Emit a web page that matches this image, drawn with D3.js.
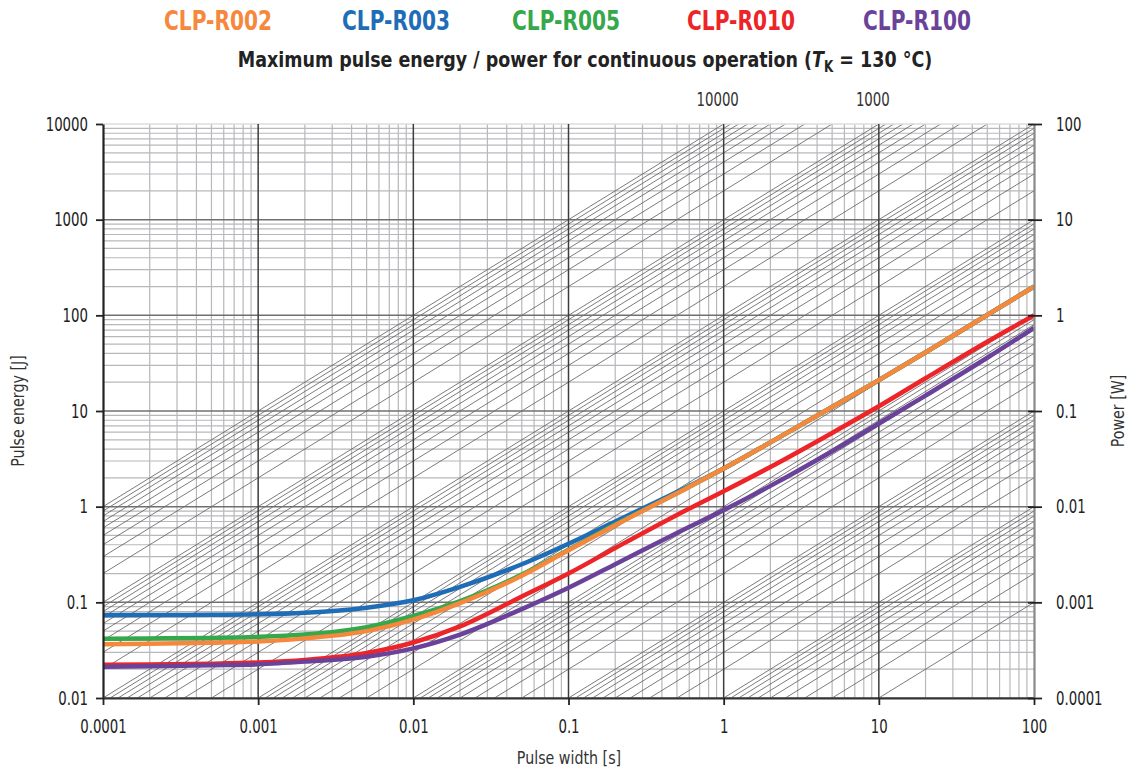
<!DOCTYPE html>
<html>
<head>
<meta charset="UTF-8">
<title>CLP pulse energy</title>
<style>
  body { margin: 0; background: #fff; }
  svg { display: block; }
  text { font-family: 'DejaVu Sans Condensed', 'DejaVu Sans', sans-serif; fill: #222; }
</style>
<script src="https://d3js.org/d3.v7.min.js"></script>
</head>
<body>
<script>
// pulse width [s]
const pulseWidths = [0.0001, 0.0002, 0.0005, 0.001, 0.002, 0.005, 0.01, 0.02, 0.05, 0.1, 0.2, 0.5, 1, 2, 5, 10, 20, 50, 100];

// pulse energy [J] per type
const r002 = [0.0365, 0.0368, 0.0378, 0.039, 0.042, 0.05, 0.066, 0.098, 0.19, 0.35, 0.64, 1.38, 2.5, 4.7, 11, 21, 41, 101, 200];
const r003 = [0.0735, 0.0737, 0.074, 0.075, 0.078, 0.088, 0.105, 0.145, 0.25, 0.41, 0.7, 1.42, 2.5, 4.7, 11, 21, 41, 101, 200];
const r005 = [0.0415, 0.042, 0.0425, 0.0435, 0.046, 0.055, 0.072, 0.103, 0.195, 0.355, 0.65, 1.38, 2.5, 4.7, 11, 21, 41, 101, 200];
const r010 = [0.0222, 0.0224, 0.0228, 0.0235, 0.025, 0.0295, 0.038, 0.056, 0.115, 0.2, 0.37, 0.82, 1.45, 2.6, 5.9, 11.2, 22, 53, 100];
const r100 = [0.0212, 0.0215, 0.022, 0.0225, 0.024, 0.027, 0.033, 0.046, 0.085, 0.142, 0.25, 0.53, 0.92, 1.65, 3.8, 7.4, 14.5, 36, 74];

const seriesNames = ["CLP-R002", "CLP-R003", "CLP-R005", "CLP-R010", "CLP-R100"];
const seriesColors = ["#f5883c", "#1f6db6", "#35a84b", "#ed2428", "#6a429a"];
const seriesValues = [r002, r003, r005, r010, r100];
const drawOrder = [1, 2, 0, 3, 4];

// ticks
const timeTicks = [0.0001, 0.001, 0.01, 0.1, 1, 10, 100];
const timeLabels = ["0.0001", "0.001", "0.01", "0.1", "1", "10", "100"];
const energyTicks = [0.01, 0.1, 1, 10, 100, 1000, 10000];
const energyLabels = ["0.01", "0.1", "1", "10", "100", "1000", "10000"];
const powerTicks = [0.0001, 0.001, 0.01, 0.1, 1, 10, 100];
const powerLabels = ["0.0001", "0.001", "0.01", "0.1", "1", "10", "100"];

// constant power lines [W]
const powerDecades = [0.001, 0.01, 0.1, 1, 10, 100, 1000];
const powerSteps = [1, 2, 3, 4, 5, 6, 7, 8, 9];
const powerMax = 10000;
const powerLineLabels = [10000, 1000];

const width = 1129, height = 772;
const plotLeft = 103, plotRight = 1034, plotTop = 124, plotBottom = 698;

const svg = d3.select("body").append("svg")
    .attr("width", width)
    .attr("height", height);

const x = d3.scaleLog().domain([0.0001, 100]).range([plotLeft, plotRight]);
const y = d3.scaleLog().domain([0.01, 10000]).range([plotBottom, plotTop]);
const yP = d3.scaleLog().domain([0.0001, 100]).range([plotBottom, plotTop]);

// squeeze text horizontally (narrow font look)
function condense(sel, s) {
    sel.each(function() {
        const t = d3.select(this);
        const x0 = +t.attr("x") || 0;
        t.attr("x", x0 / s).attr("transform", `scale(${s},1)`);
    });
}

svg.append("clipPath").attr("id", "plot")
    .append("rect")
    .attr("x", plotLeft).attr("y", plotTop)
    .attr("width", plotRight - plotLeft).attr("height", plotBottom - plotTop);

const isMajor = v => Math.abs(Math.log10(v) - Math.round(Math.log10(v))) < 1e-9;

// minor grid
const grid = svg.append("g");
grid.selectAll(".vmin").data(x.ticks().filter(v => !isMajor(v)))
    .enter().append("line")
    .attr("x1", d => x(d)).attr("x2", d => x(d))
    .attr("y1", plotTop).attr("y2", plotBottom)
    .attr("stroke", "#b8b8bc").attr("stroke-width", 1.2);

grid.selectAll(".hmin").data(y.ticks().filter(v => !isMajor(v)))
    .enter().append("line")
    .attr("x1", plotLeft).attr("x2", plotRight)
    .attr("y1", d => y(d)).attr("y2", d => y(d))
    .attr("stroke", "#b8b8bc").attr("stroke-width", 1.2);

// constant power lines
const powers = [];
powerDecades.forEach(d => powerSteps.forEach(k => powers.push(d * k)));
powers.push(powerMax);

svg.append("g").attr("clip-path", "url(#plot)")
    .selectAll("line").data(powers)
    .enter().append("line")
    .attr("x1", x(0.0001)).attr("y1", d => y(d * 0.0001))
    .attr("x2", x(100)).attr("y2", d => y(d * 100))
    .attr("stroke", "#5a5a5a").attr("stroke-width", 0.8);

// major grid
const majors = svg.append("g");
majors.selectAll(".hmaj").data(energyTicks)
    .enter().append("line")
    .attr("x1", plotLeft).attr("x2", plotRight)
    .attr("y1", d => y(d)).attr("y2", d => y(d))
    .attr("stroke", d => d === 10000 ? "#dcdcdc" : "#707070").attr("stroke-width", 1.5);

majors.selectAll(".vmaj").data(timeTicks.slice(1, -1))
    .enter().append("line")
    .attr("x1", d => x(d)).attr("x2", d => x(d))
    .attr("y1", plotTop).attr("y2", plotBottom)
    .attr("stroke", "#3c3c3c").attr("stroke-width", 1.5);

// power line labels at the top
svg.selectAll(".plab").data(powerLineLabels)
    .enter().append("text")
    .attr("x", d => x(powerMax / d) - 6)
    .attr("y", 106)
    .attr("text-anchor", "middle")
    .attr("font-size", 19)
    .style("fill", "#333")
    .text(d => d)
    .call(condense, 0.78);

// curves
const line = d3.line()
    .x((d, i) => x(pulseWidths[i]))
    .y(d => y(d))
    .curve(d3.curveMonotoneX);

svg.append("g").attr("clip-path", "url(#plot)")
    .selectAll("path").data(drawOrder)
    .enter().append("path")
    .attr("d", i => line(seriesValues[i]))
    .attr("fill", "none")
    .attr("stroke", i => seriesColors[i])
    .attr("stroke-width", 4.5)
    .attr("stroke-linejoin", "round");

// axes
const axisLeft = svg.append("g")
    .attr("transform", `translate(${plotLeft},0)`)
    .call(d3.axisLeft(y).tickValues(energyTicks).tickFormat((d, i) => energyLabels[i]).tickSize(7).tickSizeOuter(0).tickPadding(8));

const axisBottom = svg.append("g")
    .attr("transform", `translate(0,${plotBottom})`)
    .call(d3.axisBottom(x).tickValues(timeTicks).tickFormat((d, i) => timeLabels[i]).tickSize(7).tickSizeOuter(0).tickPadding(15));

const axisRight = svg.append("g")
    .attr("transform", `translate(${plotRight},0)`)
    .call(d3.axisRight(yP).tickValues(powerTicks).tickFormat((d, i) => powerLabels[i]).tickSize(8).tickSizeOuter(0).tickPadding(14));

[axisLeft, axisBottom, axisRight].forEach(a => {
    a.selectAll("text").attr("font-size", 19).attr("fill", "#333")
        .style("font-family", "'DejaVu Sans Condensed', 'DejaVu Sans', sans-serif")
        .call(condense, 0.78);
    a.selectAll(".tick line").attr("stroke", "#222").attr("stroke-width", 1.8);
});
axisLeft.select(".domain").attr("stroke", "#222").attr("stroke-width", 2.2);
axisBottom.select(".domain").attr("stroke", "#333").attr("stroke-width", 2);
axisRight.select(".domain").attr("stroke", "#888").attr("stroke-width", 2.2);
axisRight.selectAll(".tick line").attr("x1", -6);

// axis titles
svg.append("text")
    .attr("transform", `translate(${(plotLeft + plotRight) / 2 + 0.5},764) scale(0.88,1)`)
    .attr("text-anchor", "middle").attr("font-size", 18)
    .style("fill", "#333")
    .text("Pulse width [s]");

svg.append("text")
    .attr("transform", `translate(24,${(plotTop + plotBottom) / 2}) rotate(-90) scale(0.88,1)`)
    .attr("text-anchor", "middle").attr("font-size", 18)
    .style("fill", "#333")
    .text("Pulse energy [J]");

svg.append("text")
    .attr("transform", `translate(1124,${(plotTop + plotBottom) / 2}) rotate(-90) scale(0.88,1)`)
    .attr("text-anchor", "middle").attr("font-size", 18)
    .style("fill", "#333")
    .text("Power [W]");

// legend
const legendX = [218, 396, 566, 741, 917];
svg.selectAll(".leg").data(seriesNames)
    .enter().append("text")
    .attr("transform", (d, i) => `translate(${legendX[i]},30) scale(0.83,1)`)
    .attr("text-anchor", "middle")
    .attr("font-size", 27).attr("font-weight", "bold")
    .style("fill", (d, i) => seriesColors[i])
    .text(d => d);

// title
const title = svg.append("text")
    .attr("transform", "translate(585,67) scale(0.884,1)")
    .attr("text-anchor", "middle")
    .attr("font-size", 22).attr("font-weight", "bold");
title.append("tspan").text("Maximum pulse energy / power for continuous operation (");
title.append("tspan").attr("font-style", "italic").text("T");
title.append("tspan").attr("font-size", 15).attr("dy", 5).text("K");
title.append("tspan").attr("dy", -5).text(" = 130 °C)");
</script>
</body>
</html>
